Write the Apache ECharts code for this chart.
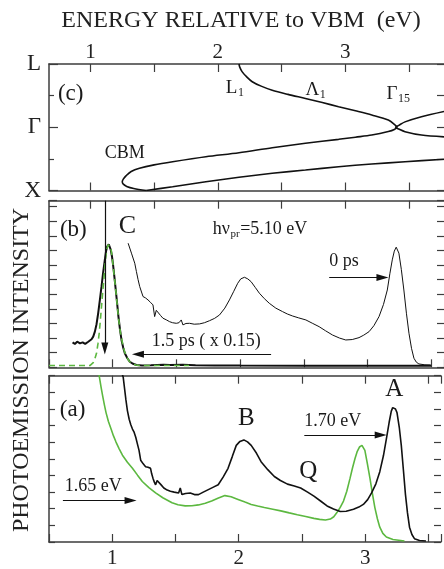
<!DOCTYPE html>
<html>
<head>
<meta charset="utf-8">
<script src="https://cdn.jsdelivr.net/npm/echarts@6/dist/echarts.min.js"></script>
<style>
  html, body { margin: 0; padding: 0; background: #fff; }
  #chart { width: 444px; height: 569px; }
</style>
</head>
<body>
<div id="chart"></div>
<script>
// ---- band structure (energy relative to VBM, eV ; k-path X=0, Γ=1, L=2) ----
const bandL1toX = [
  [2.166, 2.0], [2.172, 1.95], [2.19, 1.88], [2.225, 1.8], [2.27, 1.72], [2.34, 1.65],
  [2.427, 1.585], [2.55, 1.52], [2.6875, 1.455], [2.82, 1.39], [2.948, 1.325],
  [3.08, 1.26], [3.208, 1.194], [3.338, 1.115], [3.385, 1.045], [3.405, 1.0],
  [3.385, 0.965], [3.338, 0.932], [3.208, 0.877], [3.08, 0.843], [2.948, 0.809],
  [2.6875, 0.746], [2.427, 0.677], [2.166, 0.597], [1.906, 0.534], [1.645, 0.455],
  [1.5, 0.405], [1.385, 0.351], [1.32, 0.3], [1.281, 0.235], [1.258, 0.18],
  [1.25, 0.139], [1.258, 0.1], [1.285, 0.065], [1.34, 0.032], [1.4375, 0.0]
];
const bandXright = [
  [1.4375, 0.0], [1.645, 0.06], [1.906, 0.139], [2.166, 0.209], [2.427, 0.272],
  [2.6875, 0.324], [2.948, 0.376], [3.208, 0.419], [3.469, 0.455], [3.775, 0.495]
];
const bandGamma15 = [
  [3.775, 1.25], [3.598, 1.167], [3.469, 1.085], [3.42, 1.03], [3.395, 1.0],
  [3.42, 0.972], [3.469, 0.93], [3.598, 0.877], [3.775, 0.848]
];
const kLabels = { 0: 'X', 1: 'Γ', 2: 'L' };
const topTickValues = [1, 1.5, 2, 2.5, 3, 3.5];
const topLabelValues = [1, 2, 3];

// ---- panel (b): hν_pr = 5.10 eV ----
const spec0ps = [
  [1.121, 8.49], [1.147, 7.81], [1.173, 7.12], [1.186, 6.55], [1.199, 6.0], [1.212, 5.52],
  [1.238, 4.84], [1.257, 4.75], [1.277, 4.61], [1.296, 4.45], [1.316, 4.27], [1.329, 3.47],
  [1.342, 3.9], [1.355, 3.81], [1.375, 3.55], [1.394, 3.36], [1.42, 3.25], [1.447, 3.12],
  [1.47, 3.05], [1.499, 3.01], [1.52, 3.05], [1.538, 3.24], [1.551, 2.9], [1.575, 3.0],
  [1.603, 3.01], [1.64, 2.95], [1.682, 2.97], [1.72, 3.05], [1.76, 3.19], [1.8, 3.35],
  [1.838, 3.58], [1.88, 4.05], [1.916, 4.61], [1.95, 5.2], [1.981, 5.75], [2.005, 6.05],
  [2.034, 6.16], [2.06, 6.05], [2.086, 5.86], [2.12, 5.45], [2.151, 5.07], [2.19, 4.7],
  [2.229, 4.38], [2.28, 4.05], [2.333, 3.81], [2.37, 3.65], [2.412, 3.51], [2.46, 3.38],
  [2.516, 3.24], [2.57, 3.0], [2.62, 2.78], [2.67, 2.5], [2.725, 2.21], [2.78, 2.0],
  [2.829, 1.87], [2.88, 1.9], [2.933, 2.03], [2.97, 2.2], [3.012, 2.44], [3.05, 2.85],
  [3.09, 3.47], [3.125, 4.3], [3.155, 5.29], [3.175, 6.4], [3.194, 7.35], [3.21, 7.95],
  [3.225, 8.22], [3.236, 8.1], [3.246, 7.81], [3.265, 6.7], [3.285, 5.29], [3.305, 3.7],
  [3.325, 2.33], [3.345, 1.3], [3.364, 0.62], [3.383, 0.35], [3.403, 0.23], [3.45, 0.17],
  [3.495, 0.16]
];
const spec15ps = [
  [0.685, 1.71], [0.694, 1.62], [0.703, 1.6], [0.712, 1.72], [0.721, 1.75], [0.73, 1.62],
  [0.743, 1.64], [0.753, 1.74], [0.764, 1.71], [0.774, 1.6], [0.784, 1.6], [0.796, 1.7],
  [0.808, 1.75], [0.821, 1.8], [0.834, 1.92], [0.847, 2.1], [0.86, 2.44], [0.873, 2.95],
  [0.886, 3.7], [0.899, 4.6], [0.912, 5.52], [0.925, 6.5], [0.938, 7.35], [0.947, 7.9],
  [0.956, 8.26], [0.969, 8.42], [0.977, 8.35], [0.985, 8.03], [0.994, 7.6], [1.003, 7.0],
  [1.013, 6.2], [1.024, 5.29], [1.035, 4.35], [1.045, 3.47], [1.057, 2.6], [1.069, 1.87],
  [1.082, 1.35], [1.095, 0.96], [1.115, 0.62], [1.134, 0.38], [1.16, 0.24], [1.186, 0.16],
  [1.23, 0.13], [1.3, 0.14], [1.4, 0.17], [1.45, 0.15], [1.55, 0.17], [1.65, 0.14],
  [1.8, 0.13], [2.0, 0.12], [2.5, 0.11], [3.0, 0.1], [3.5, 0.1]
];
const fit15ps = [
  [0.5, 0.12], [0.7, 0.12], [0.821, 0.12], [0.835, 0.18], [0.847, 0.32], [0.86, 0.58],
  [0.873, 0.96], [0.884, 1.6], [0.894, 2.33], [0.903, 3.2], [0.912, 4.15], [0.921, 5.1],
  [0.93, 5.98], [0.938, 6.85], [0.946, 7.58], [0.955, 8.1], [0.964, 8.38], [0.973, 8.4],
  [0.983, 8.26], [0.99, 7.9], [0.998, 7.35], [1.01, 6.4], [1.024, 5.29], [1.035, 4.3],
  [1.045, 3.4], [1.06, 2.4], [1.077, 1.64], [1.092, 1.1], [1.108, 0.73], [1.127, 0.45],
  [1.147, 0.27], [1.18, 0.16], [1.212, 0.12], [1.4, 0.12], [1.6, 0.12]
];

// ---- panel (a) ----
const specBlackA = [
  [1.05, 10.8], [1.087, 9.9], [1.108, 8.56], [1.12, 7.9], [1.134, 7.38], [1.147, 7.05],
  [1.16, 6.79], [1.173, 6.6], [1.186, 6.3], [1.199, 5.9], [1.212, 5.51], [1.225, 4.92],
  [1.245, 4.7], [1.264, 4.53], [1.283, 4.5], [1.303, 4.43], [1.312, 4.1], [1.322, 3.84],
  [1.333, 3.6], [1.343, 3.44], [1.355, 3.7], [1.368, 3.74], [1.385, 3.45], [1.408, 3.25],
  [1.435, 3.12], [1.46, 3.05], [1.49, 3.0], [1.525, 2.95], [1.538, 3.25], [1.551, 2.85],
  [1.58, 2.92], [1.617, 2.95], [1.65, 2.85], [1.682, 2.85], [1.72, 3.0], [1.76, 3.15],
  [1.8, 3.3], [1.838, 3.44], [1.877, 3.9], [1.916, 4.43], [1.95, 5.15], [1.981, 5.81],
  [2.01, 6.05], [2.041, 6.14], [2.07, 6.02], [2.099, 5.81], [2.14, 5.35], [2.177, 4.83],
  [2.23, 4.35], [2.282, 3.94], [2.33, 3.7], [2.386, 3.48], [2.44, 3.37], [2.49, 3.25],
  [2.545, 3.0], [2.595, 2.76], [2.65, 2.45], [2.699, 2.17], [2.75, 1.98], [2.803, 1.83],
  [2.85, 1.85], [2.908, 1.97], [2.95, 2.1], [2.986, 2.26], [3.02, 2.55], [3.051, 2.95],
  [3.085, 3.5], [3.116, 4.23], [3.145, 5.2], [3.168, 6.2], [3.19, 7.2], [3.207, 7.87],
  [3.218, 8.08], [3.228, 8.13], [3.24, 8.0], [3.252, 7.78], [3.27, 6.9], [3.286, 5.81],
  [3.303, 4.3], [3.319, 2.85], [3.335, 1.75], [3.351, 0.89], [3.37, 0.45], [3.39, 0.2],
  [3.43, 0.09], [3.481, 0.06]
];
const specGreenA = [
  [0.88, 10.9], [0.899, 9.9], [0.912, 9.3], [0.925, 8.76], [0.938, 8.25], [0.951, 7.78],
  [0.97, 7.25], [0.991, 6.79], [1.01, 6.38], [1.03, 6.01], [1.055, 5.6], [1.081, 5.22],
  [1.12, 4.8], [1.16, 4.43], [1.2, 4.02], [1.238, 3.64], [1.29, 3.27], [1.343, 2.95],
  [1.4, 2.66], [1.473, 2.36], [1.52, 2.24], [1.577, 2.17], [1.63, 2.18], [1.682, 2.23],
  [1.736, 2.33], [1.786, 2.46], [1.84, 2.64], [1.891, 2.79], [1.94, 2.72], [1.995, 2.56],
  [2.05, 2.4], [2.099, 2.26], [2.15, 2.16], [2.203, 2.07], [2.27, 1.97], [2.333, 1.87],
  [2.4, 1.75], [2.464, 1.64], [2.53, 1.53], [2.595, 1.42], [2.64, 1.36], [2.686, 1.32],
  [2.725, 1.38], [2.752, 1.52], [2.777, 1.77], [2.803, 2.08], [2.829, 2.46], [2.855, 3.05],
  [2.881, 3.84], [2.9, 4.45], [2.92, 5.02], [2.938, 5.45], [2.955, 5.71], [2.965, 5.8],
  [2.975, 5.81], [2.987, 5.72], [2.998, 5.51], [3.018, 4.7], [3.038, 3.84], [3.058, 2.9],
  [3.077, 2.07], [3.097, 1.4], [3.116, 0.89], [3.14, 0.52], [3.168, 0.3], [3.22, 0.15],
  [3.311, 0.06]
];

// arrows: [from, to] in data units of their panel
const arrowsB = [
  [[2.699, 6.14], [3.117, 6.14]],   // 0 ps
  [[2.243, 0.89], [1.198, 0.89]],   // 1.5 ps
  [[0.938, 11.4], [0.938, 1.29]]    // C
];
const arrowsA = [
  [[2.519, 6.44], [3.123, 6.44]],   // 1.70 eV
  [[0.61, 2.5], [1.145, 2.5]]       // 1.65 eV
];

// ---- styling ----
const FONT = '"Liberation Serif", "Times New Roman", Times, serif';
const AX = '#3d3d3d';
const INK = '#111';
const GREEN = '#5cb840';
const axisLine = { show: true, onZero: false, lineStyle: { color: AX, width: 1.5 } };

function xAxisDef(grid, position, scale, ticks) {
  const a = {
    gridIndex: grid, type: 'value', position: position,
    min: scale[0], max: scale[1],
    axisLine: axisLine,
    axisTick: { show: true, inside: true, length: 8, lineStyle: { color: AX, width: 1.2 } },
    axisLabel: { show: false },
    splitLine: { show: false }
  };
  if (ticks === 'top') {
    a.axisTick.customValues = topTickValues;
  } else {
    a.interval = 0.5;
  }
  return a;
}
const TOP_SCALE = [0.675, 3.775];
const BOT_SCALE = [0.5, 3.6];

const xAxes = [
  xAxisDef(0, 'top', TOP_SCALE, 'top'),
  xAxisDef(0, 'bottom', TOP_SCALE, 'top'),
  xAxisDef(1, 'top', TOP_SCALE, 'top'),
  xAxisDef(1, 'bottom', BOT_SCALE, 'bot'),
  xAxisDef(2, 'top', BOT_SCALE, 'bot'),
  xAxisDef(2, 'bottom', BOT_SCALE, 'bot')
];
xAxes[0].axisLabel = {
  show: true, customValues: topLabelValues, fontSize: 21, fontFamily: FONT, color: '#222', margin: 1
};
xAxes[5].axisLabel = {
  show: true, fontSize: 21, fontFamily: FONT, color: '#222', margin: 6,
  formatter: v => (Math.abs(v - Math.round(v)) < 1e-6 && v >= 1 && v <= 3) ? String(Math.round(v)) : ''
};

function yAxisDef(grid, position, max, interval, tickLen) {
  return {
    gridIndex: grid, type: 'value', position: position, min: 0, max: max, interval: interval,
    axisLine: position === 'left' ? axisLine : { show: false },
    axisTick: { show: true, inside: true, length: tickLen, lineStyle: { color: AX, width: 1.2 } },
    axisLabel: { show: false },
    splitLine: { show: false }
  };
}
const yAxes = [
  yAxisDef(0, 'left', 2, 1, 9),
  yAxisDef(0, 'right', 2, 0.5, 7),
  yAxisDef(1, 'left', 11.4, 1, 8),
  yAxisDef(1, 'right', 11.4, 1, 7),
  yAxisDef(2, 'left', 10, 1, 6),
  yAxisDef(2, 'right', 10, 1, 7)
];
yAxes[0].minorTick = { show: true, splitNumber: 2, length: 5, lineStyle: { color: AX, width: 1.2 } };
yAxes[0].axisLabel = {
  show: true, fontSize: 23, fontFamily: FONT, color: '#222', margin: 8,
  formatter: v => kLabels[Math.round(v)] || ''
};

function lineSeries(x, y, data, color, width, extra) {
  return Object.assign({
    type: 'line', xAxisIndex: x, yAxisIndex: y, data: data,
    showSymbol: false, symbol: 'none', silent: true, animation: false,
    lineStyle: { color: color, width: width }, z: 3
  }, extra || {});
}
function arrowMarks(list, color) {
  return {
    silent: true, animation: false, symbol: ['none', 'triangle'], symbolSize: [7, 12],
    label: { show: false }, emphasis: { disabled: true },
    lineStyle: { color: color, width: 1.2, type: 'solid' },
    itemStyle: { color: color },
    data: list.map(p => [{ coord: p[0] }, { coord: p[1] }])
  };
}

const chart = echarts.init(document.getElementById('chart'), null, { renderer: 'canvas' });
chart.setOption({
  animation: false,
  backgroundColor: '#fff',
  title: {
    text: 'ENERGY RELATIVE to VBM  (eV)', left: 236, top: 4, textAlign: 'center',
    textStyle: { fontFamily: FONT, fontSize: 24, fontWeight: 'normal', color: '#222' }
  },
  grid: [
    { left: 49, top: 64, width: 396, height: 126.5 },
    { left: 49, top: 200.7, width: 396, height: 166.6 },
    { left: 49, top: 375.7, width: 396, height: 169.3 }
  ],
  xAxis: xAxes,
  yAxis: yAxes,
  series: [
    lineSeries(0, 0, bandL1toX, INK, 1.6, { smooth: 0.3 }),
    lineSeries(0, 0, bandXright, INK, 1.6, { smooth: 0.3 }),
    lineSeries(0, 0, bandGamma15, INK, 1.6, { smooth: 0.3 }),
    lineSeries(3, 2, fit15ps, GREEN, 1.6, { lineStyle: { color: GREEN, width: 1.6, type: [6, 4] }, z: 4 }),
    lineSeries(3, 2, spec15ps, INK, 2),
    lineSeries(3, 2, spec0ps, INK, 1, { markLine: arrowMarks(arrowsB, INK) }),
    lineSeries(5, 4, specGreenA, GREEN, 1.6),
    lineSeries(5, 4, specBlackA, INK, 1.6, { markLine: arrowMarks(arrowsA, INK) })
  ]
});

// ---- text annotations placed from data coordinates ----
const notes = [
  { axes: [0, 0], at: [0.745, 1.534], text: '(c)', size: 23 },
  { axes: [0, 0], at: [2.0625, 1.62], text: 'L', sub: '1', size: 19 },
  { axes: [0, 0], at: [2.6875, 1.589], text: 'Λ', sub: '1', size: 19 },
  { axes: [0, 0], at: [3.323, 1.526], text: 'Γ', sub: '15', size: 19 },
  { axes: [0, 0], at: [1.112, 0.593], text: 'CBM', size: 18 },
  { axes: [3, 2], at: [0.586, 9.4], text: '(b)', size: 23 },
  { axes: [3, 2], at: [1.048, 9.68], text: 'C', size: 26 },
  { axes: [3, 2], at: [1.786, 9.47], text: 'hν', sub: 'pr', after: '=5.10 eV', size: 18 },
  { axes: [3, 2], at: [2.699, 7.28], text: '0 ps', size: 18 },
  { axes: [3, 2], at: [1.306, 1.8], text: '1.5 ps ( x 0.15)', size: 18 },
  { axes: [5, 4], at: [0.586, 7.97], text: '(a)', size: 23 },
  { axes: [5, 4], at: [1.994, 7.44], text: 'B', size: 25 },
  { axes: [5, 4], at: [2.48, 4.25], text: 'Q', size: 25 },
  { axes: [5, 4], at: [3.16, 9.16], text: 'A', size: 25 },
  { axes: [5, 4], at: [2.519, 7.27], text: '1.70 eV', size: 18 },
  { axes: [5, 4], at: [0.625, 3.37], text: '1.65 eV', size: 18 }
];
const measureCtx = document.createElement('canvas').getContext('2d');
function textWidth(s, size) {
  measureCtx.font = size + 'px ' + FONT;
  return measureCtx.measureText(s).width;
}
function textEl(s, x, y, size) {
  return {
    type: 'text', x: x, y: y, silent: true, z: 10,
    style: { text: s, fontFamily: FONT, fontSize: size, fill: '#1a1a1a', align: 'left', verticalAlign: 'middle' }
  };
}
const graphics = [];
notes.forEach(n => {
  const p = chart.convertToPixel({ xAxisIndex: n.axes[0], yAxisIndex: n.axes[1] }, n.at);
  let x = p[0];
  graphics.push(textEl(n.text, x, p[1], n.size));
  if (n.sub) {
    x += textWidth(n.text, n.size) + 0.5;
    const subSize = Math.round(n.size * 0.62);
    graphics.push(textEl(n.sub, x, p[1] + 5, subSize));
    x += textWidth(n.sub, subSize) + 0.5;
  }
  if (n.after) {
    graphics.push(textEl(n.after, x, p[1], n.size));
  }
});
graphics.push({
  type: 'text', x: 22, y: 370, rotation: Math.PI / 2, silent: true,
  style: {
    text: 'PHOTOEMISSION INTENSITY', fontFamily: FONT, fontSize: 24, fill: '#222',
    align: 'center', verticalAlign: 'middle'
  }
});
chart.setOption({ graphic: graphics });
</script>
</body>
</html>
